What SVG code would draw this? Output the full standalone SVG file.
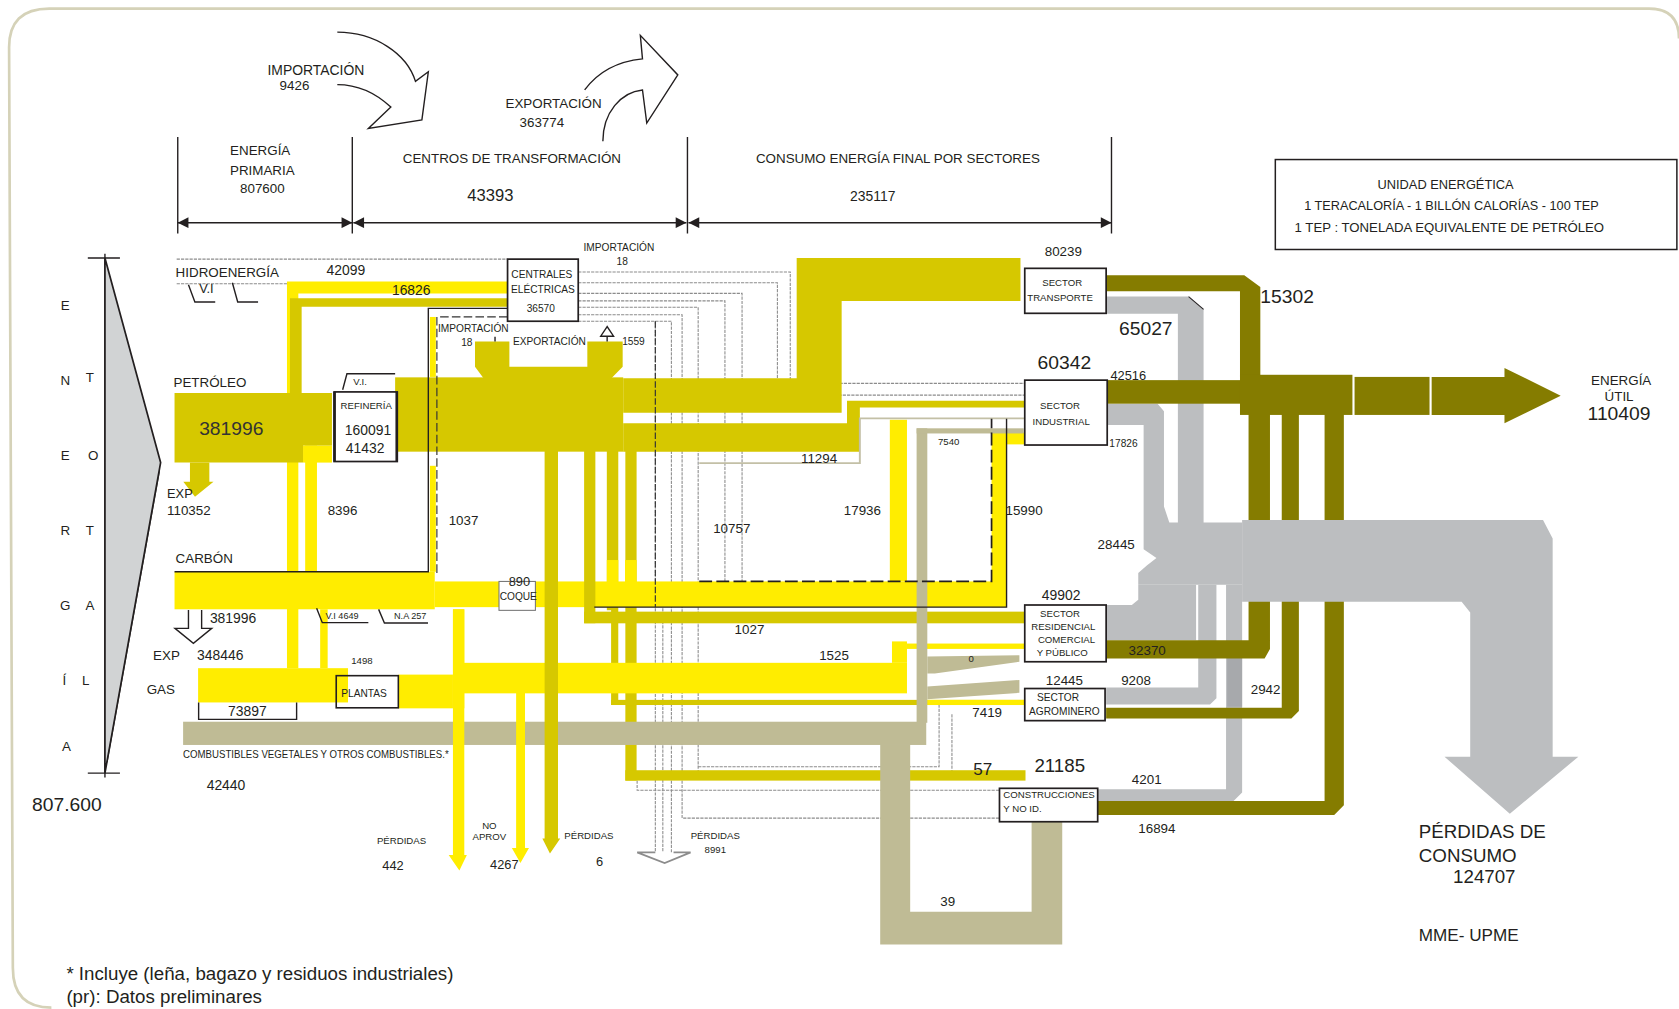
<svg xmlns="http://www.w3.org/2000/svg" width="1679" height="1009" viewBox="0 0 1679 1009">
<defs>
<style>
.t{font-family:"Liberation Sans",Arial,sans-serif;fill:#231F20}
.s8{font-size:8.5px}.s9{font-size:9px}.s95{font-size:9.5px}.s12{font-size:12px}.s125{font-size:12.5px}.s13{font-size:13px}.s155{font-size:15.5px}.s17{font-size:17.5px}.s18{font-size:18px}
.m{text-anchor:middle}
.pe{fill:#D6C800}.co{fill:#FFED00}.kh{fill:#BFBB95}.ol{fill:#857C00}.gr{fill:#BCBEC0}
.box{fill:#fff;stroke:#231F20;stroke-width:1.6}
.open{fill:none;stroke:#231F20;stroke-width:1.3}
.el{fill:none;stroke:#8c8c8c;stroke-width:1;stroke-dasharray:3 1}
.ln{fill:none;stroke:#231F20;stroke-width:1.3}
.dash{fill:none;stroke:#231F20;stroke-width:1.6;stroke-dasharray:12 4}
</style>
<marker id="tip" viewBox="0 0 10 10" refX="10" refY="5" markerWidth="11" markerHeight="10" markerUnits="userSpaceOnUse" orient="auto-start-reverse"><path d="M0,0L10,5L0,10Z" fill="#231F20"/></marker>
</defs>
<rect width="1679" height="1009" fill="#fff"/>
<g transform="scale(1.0708)">

<!-- outer frame -->
<path d="M1568,36 Q1568,8 1540,8 H46 Q8,8 8.5,45 L12,904 Q12,941 48,941" fill="none" stroke="#D5D2B8" stroke-width="2.5"/>

<!-- header: brackets, import / export arrows, unit box -->
<g id="header">
  <path class="ln" d="M166,128V218M329,128V218M642,128V218M1038,128V218"/>
  <line class="ln" x1="166" y1="208" x2="329" y2="208" marker-start="url(#tip)" marker-end="url(#tip)"/>
  <line class="ln" x1="330" y1="208" x2="641" y2="208" marker-start="url(#tip)" marker-end="url(#tip)"/>
  <line class="ln" x1="643" y1="208" x2="1038" y2="208" marker-start="url(#tip)" marker-end="url(#tip)"/>
  <path class="open" d="M315,30 C350,30 380,50 388,76 L400,67 L394,112 L344,120 L365,100 C350,86 332,79 315,79"/>
  <path class="open" d="M546,84 C560,65 580,57 600,55 L598,33 L633,70 L604,115 L600,84 C580,86 563,105 563,132"/>
  <text class="t s13 m" x="295" y="70.5">IMPORTACIÓN</text>
  <text class="t s125 m" x="275" y="84">9426</text>
  <text class="t s125 m" x="517" y="100.5">EXPORTACIÓN</text>
  <text class="t s125 m" x="506" y="118.5">363774</text>
  <text class="t s125 m" x="243" y="144.5">ENERGÍA</text>
  <text class="t s125 m" x="245" y="163.5">PRIMARIA</text>
  <text class="t s125 m" x="245" y="180.5">807600</text>
  <text class="t s125 m" x="478" y="152.5">CENTROS DE TRANSFORMACIÓN</text>
  <text class="t s155 m" x="458" y="187.5">43393</text>
  <text class="t s125 m" x="838.5" y="152.5">CONSUMO ENERGÍA FINAL POR SECTORES</text>
  <text class="t s13 m" x="815" y="187.5">235117</text>
  <rect x="1191" y="149" width="375" height="84" fill="#fff" stroke="#231F20" stroke-width="1.4"/>
  <text class="t s12 m" x="1350" y="176.5">UNIDAD ENERGÉTICA</text>
  <text class="t s12" x="1218" y="196.5" textLength="275" lengthAdjust="spacingAndGlyphs">1 TERACALORÍA  - 1 BILLÓN CALORÍAS  - 100 TEP</text>
  <text class="t s12" x="1209" y="216.5" textLength="289" lengthAdjust="spacingAndGlyphs">1 TEP : TONELADA EQUIVALENTE DE PETRÓLEO</text>
</g>

<!-- total supply wedge -->
<g id="node-entrega">
  <path class="ln" d="M98,237V726M82,241H112M82,722H112"/>
  <polygon points="98,241 150,432 98,722" fill="#D1D3D4" stroke="#231F20" stroke-width="1.6"/>
  <path d="M100,712 L149,440" stroke="#231F20" stroke-width="0.8" fill="none"/>
  <g class="t s125 m">
    <text x="61" y="289.5">E</text><text x="61" y="359.5">N</text><text x="61" y="429.5">E</text><text x="61" y="499.5">R</text><text x="61" y="569.5">G</text><text x="60" y="639.5">Í</text><text x="62" y="701.5">A</text>
    <text x="84" y="356.5">T</text><text x="87" y="429.5">O</text><text x="84" y="499.5">T</text><text x="84" y="569.5">A</text><text x="80" y="639.5">L</text>
  </g>
  <text class="t s18" x="30" y="757">807.600</text>
</g>

<g id="connectors">
  <!-- electricity and hydro network (thin lines, behind the bands) -->
  <g>
    <path class="el" d="M165,242H474M165,265H268"/>
    <path class="el" d="M540,254H738V358H957"/>
    <path class="el" d="M540,264H726V369H957"/>
    <path class="el" d="M540,274H693V543"/>
    <path class="el" d="M540,281H677V543" stroke="#555"/>
    <path class="el" d="M540,287H652V727H917"/>
    <path class="el" d="M540,294H637V764H934"/>
    <path class="el" d="M540,300H627V796"/>
    <path class="el" d="M612,300V796" stroke="#444"/>
    <path class="el" d="M619,560V796"/>
    <path class="el" d="M652,716H877V656"/>
    <path class="el" d="M889,667V727"/>
    <path class="el" d="M595,729V738H934"/>
    <path d="M595,796H612M629,796H645M595,796L620.7,806L645,796" fill="none" stroke="#8c8c8c" stroke-width="1.6"/>
  </g>

  <!-- coal and gas (bright yellow) -->
  <polygon class="co" points="268,263 474,263 474,274 278.6,274 278.6,624 268,624"/>
  <rect class="co" x="283" y="416" width="27" height="16"/>
  <rect class="co" x="285" y="416" width="11" height="118"/>
  <rect class="co" x="299" y="569" width="7" height="55"/>
  <rect class="co" x="401.5" y="296" width="5.5" height="56"/>
  <rect class="co" x="401.5" y="435" width="5.5" height="99"/>

  <!-- petroleum verticals passing under the coal band -->
  <polygon class="pe" points="566.7,421 577.4,421 577.4,658.4 570.7,658.4 570.7,570 566.7,570"/>
  <rect class="pe" x="584" y="421" width="10.5" height="308"/>

  <rect class="co" x="163" y="534" width="243" height="35"/>
  <rect class="co" x="406" y="543" width="534" height="24"/>
  <rect class="co" x="926" y="404" width="14" height="163"/>
  <rect class="co" x="926" y="404" width="31" height="11"/>
  <rect class="co" x="831" y="392" width="16" height="151"/>
  <rect class="co" x="566.7" y="523" width="10.7" height="44"/>
  <rect class="co" x="583.7" y="523" width="10.8" height="44"/>

  <rect class="co" x="185" y="624" width="140" height="32"/>
  <rect class="co" x="372" y="630" width="51" height="31.5"/>
  <rect class="co" x="423" y="569" width="10.6" height="92.5"/>
  <rect class="co" x="433" y="619" width="414" height="28.5"/>
  <rect class="co" x="833" y="599" width="14" height="20"/>
  <rect class="co" x="847" y="601" width="110" height="5"/>

  <!-- combustibles vegetales main band -->
  <rect class="kh" x="171" y="674" width="694" height="21.7"/>

  <!-- losses arrows from coal / gas -->
  <polygon class="co" points="423,569 433.6,569 433.6,798.5 436,798.5 429,813 419,798.5 423,798.5"/>
  <polygon class="co" points="482,647 490.3,647 490.3,792 494,792 486,806 478,792 482,792"/>

  <!-- petroleum (dark yellow) -->
  <polygon class="pe" points="163,367 310,367 310,416 283,416 283,432 163,432"/>
  <polygon class="pe" points="177.4,432 195.5,432 195.5,449.8 199.4,449.8 182.1,463.9 171.2,449.8 177.4,449.8"/>
  <polygon class="pe" points="270.8,278.6 474,278.6 474,286.4 281.7,286.4 281.7,367 270.8,367"/>
  <rect class="pe" x="369" y="352.4" width="213" height="69.4"/>
  <polygon class="pe" points="443.6,319 475.7,319 475.7,342.4 548.5,342.4 548.5,319 581.5,319 581.5,342.4 571.2,353 451.4,353 443.6,342.4"/>
  <polygon class="pe" points="582,353.3 744,353.3 744,241 953,241 953,281 786,281 786,385.4 582,385.4"/>
  <polygon class="pe" points="582,395.3 791,395.3 791,374.2 957,374.2 957,380.5 803,380.5 803,421.8 582,421.8"/>
  <rect class="pe" x="545.5" y="421" width="10.5" height="161"/>
  <rect class="pe" x="545.5" y="571.2" width="412" height="10.9"/>
  <rect class="pe" x="570.7" y="653.6" width="386.3" height="4.8"/>
  <rect class="co" x="865" y="653.6" width="92" height="4.8"/>
  <rect class="pe" x="584" y="719.3" width="373.7" height="9.7"/>
  <polygon class="pe" points="508.6,421 521.1,421 521.1,783 523.2,783 513.6,797 506.5,783 508.6,783"/>

  <!-- combustibles vegetales branches -->
  <rect class="kh" x="856" y="400" width="10" height="275"/>
  <rect class="kh" x="856" y="400" width="100" height="4.8"/>
  <polygon class="kh" points="866,613 952,612 952,618 873,629 866,629"/>
  <polygon class="kh" points="866,641 952,635 952,647 866,653"/>
  <polygon class="kh" points="822,695 822,882 992,882 992,762.7 963.4,762.7 963.4,851.4 850,851.4 850,695"/>

  <!-- gas line to industry -->
  <path d="M653,432.5H803V390.7H957" fill="none" stroke="#c3c0a6" stroke-width="1.8"/>

  <!-- outlines of the coal flows -->
  <path class="ln" d="M163,534H400V288H474"/>
  <path d="M408,535V296H474" fill="none" stroke="#333" stroke-width="1.1" stroke-dasharray="8 3"/>
  <path class="dash" d="M653,543H926V391"/>
  <path class="ln" d="M555,567H940V391"/>
  <path d="M612,300V567" fill="none" stroke="#333" stroke-width="1.1" stroke-dasharray="6 2"/>
  <path class="ln" d="M462.3,314.4V319"/>
  <path class="ln" d="M567,314V319" />
  <polygon points="567,305 561,314 573,314" fill="#fff" stroke="#231F20" stroke-width="1.3"/>
  <path class="open" d="M176,569.7V586.8H163.4L180.6,600.8L197.7,586.8H188.3V569.7"/>

  <!-- consumption losses (grey) -->
  <polygon class="gr" points="1033,277 1110,277 1124,289 1124,490 1100,490 1100,293 1033,293"/>
  <path d="M1110,277 L1124,289" stroke="#231F20" stroke-width="1" fill="none"/>
  <polygon class="gr" points="1034,377 1081,377 1087,384 1087,473 1092,488 1160,488 1160,546 1063,546 1063,535 1071,528 1080,521 1068,513 1068,397 1034,397"/>
  <polygon class="gr" points="1033,565 1057,565 1063,560 1063,546 1117,546 1117,598 1033,598"/>
  <polygon class="gr" points="1119,546 1136,546 1136,652 1130,658 1033,658 1033,642 1119,642"/>
  <polygon class="gr" points="1145,546 1160,546 1160,740 1152,748 1024,748 1024,737 1145,737"/>
  <rect x="1146" y="610" width="14" height="50" fill="#A7A9AC"/>

  <!-- useful energy (olive) -->
  <polygon class="ol" points="1033,257 1162,257 1177,268 1177,352 1158,352 1158,272 1033,272"/>
  <rect class="ol" x="1034" y="355" width="142" height="22"/>
  <rect class="ol" x="1158" y="350" width="105" height="37.5"/>
  <polygon class="ol" points="1166,385 1186,385 1186,606 1181,615 1033,615 1033,598 1166,598"/>
  <polygon class="ol" points="1197,385 1213,385 1213,664 1206,671 1033,671 1033,661 1197,661"/>
  <polygon class="ol" points="1237,385 1255,385 1255,752 1246,761 1024,761 1024,748 1237,748"/>

  <!-- consumption losses main arrow -->
  <polygon class="gr" points="1160,485.6 1441,485.6 1450,503 1450,706.7 1474,706.7 1410,760 1349,706.7 1373,706.7 1373,572 1365,562 1160,562"/>
</g>

<!-- useful energy output -->
<g id="node-energia-util">
  <rect class="ol" x="1265" y="352" width="70" height="35.5"/>
  <polygon class="ol" points="1337,352 1405,352 1405,343.6 1457.5,369.5 1405,395.3 1405,387.5 1337,387.5"/>
  <text class="t s125 m" x="1514" y="359.5">ENERGÍA</text>
  <text class="t s125 m" x="1512" y="374.5">ÚTIL</text>
  <text class="t s18 m" x="1512" y="392.5">110409</text>
</g>

<g id="node-perdidas-consumo">
  <text class="t s17" x="1325" y="783">PÉRDIDAS DE</text>
  <text class="t s17" x="1325" y="805">CONSUMO</text>
  <text class="t s17" x="1357" y="825">124707</text>
</g>

<!-- transformation centres -->
<g id="node-centrales">
  <rect class="box" x="474" y="242" width="66" height="58"/>
  <text class="t s95 m" x="506" y="259.5">CENTRALES</text>
  <text class="t s95 m" x="507" y="273.5">ELÉCTRICAS</text>
  <text class="t s95 m" x="505" y="291.5">36570</text>
</g>
<g id="node-refineria">
  <path class="ln" d="M320,364L324,349H369"/>
  <text class="t s9" x="330" y="359.5">V.I.</text>
  <rect class="box" x="312" y="366" width="59" height="65" stroke-width="1.3"/>
  <path d="M312.5,366V431M370.5,366V431" stroke="#231F20" stroke-width="2.4"/>
  <text class="t s9 m" x="342" y="381.5">REFINERÍA</text>
  <text class="t s13" x="322" y="406.5">160091</text>
  <text class="t s13" x="323" y="423.5">41432</text>
</g>
<g id="node-coque">
  <rect x="466" y="543" width="34" height="27" fill="#fff" stroke="#777" stroke-width="1"/>
  <text class="t s12 m" x="485" y="547">890</text>
  <text class="t s95 m" x="484" y="560.5">COQUE</text>
</g>
<g id="node-plantas">
  <rect x="314" y="631" width="58" height="30" fill="none" stroke="#231F20" stroke-width="1.5"/>
  <text class="t s95 m" x="340" y="650.5">PLANTAS</text>
</g>

<!-- consumption sectors -->
<g id="node-transporte">
  <rect class="box" x="957" y="250.6" width="76" height="42" stroke-width="2"/>
  <text class="t s9 m" x="992" y="267.5">SECTOR</text>
  <text class="t s9 m" x="990" y="281.5">TRANSPORTE</text>
</g>
<g id="node-industrial">
  <rect class="box" x="957" y="355" width="77" height="60.6" stroke-width="2.4"/>
  <text class="t s9 m" x="990" y="381.5">SECTOR</text>
  <text class="t s9 m" x="991" y="396.5">INDUSTRIAL</text>
</g>
<g id="node-residencial">
  <rect class="box" x="957" y="565" width="76" height="53" stroke-width="2"/>
  <text class="t s9 m" x="990" y="576.5">SECTOR</text>
  <text class="t s9 m" x="993" y="588.5">RESIDENCIAL</text>
  <text class="t s9 m" x="996" y="600.5">COMERCIAL</text>
  <text class="t s9 m" x="992" y="612.5">Y PÚBLICO</text>
</g>
<g id="node-agrominero">
  <rect class="box" x="957" y="643" width="75" height="30" stroke-width="2.2"/>
  <text class="t s95 m" x="988" y="654.5">SECTOR</text>
  <text class="t s95 m" x="994" y="667.5">AGROMINERO</text>
</g>
<g id="node-construcciones">
  <rect class="box" x="933.4" y="736.2" width="91.7" height="31.2" stroke-width="1.3"/>
  <text class="t s9" x="937" y="745.5">CONSTRUCCIONES</text>
  <text class="t s9" x="937" y="758.5">Y NO ID.</text>
</g>

<!-- primary sources -->
<g id="node-hidroenergia">
  <text class="t s125" x="164" y="258.5">HIDROENERGÍA</text>
  <path class="ln" d="M176,266L182,282H201M217,264L222,282H241"/>
  <text class="t s12" x="186" y="274">V.I</text>
</g>
<g id="node-petroleo">
  <text class="t s125" x="162" y="361.5">PETRÓLEO</text>
  <text x="186" y="406" style="font-family:'Liberation Sans',Arial,sans-serif;fill:#333;font-size:18px">381996</text>
  <text class="t s12" x="156" y="465.5">EXP</text>
  <text class="t s125" x="156" y="480.5">110352</text>
</g>
<g id="node-carbon">
  <text class="t s125" x="164" y="525.5">CARBÓN</text>
  <text class="t s13" x="196" y="582">381996</text>
  <text class="t s125" x="143" y="616.5">EXP</text>
  <text class="t s13" x="184" y="616.5">348446</text>
  <path class="ln" d="M295.7,568L301,581.5H344M353.6,569.1L359,581.8H399.7"/>
  <text class="t s8" x="304" y="578.5">V.I 4649</text>
  <text class="t s8" x="368" y="578.5">N.A 257</text>
</g>
<g id="node-gas">
  <text class="t s125" x="137" y="648.5">GAS</text>
  <path class="ln" d="M185.5,656V671.8H277V656"/>
  <text class="t s13 m" x="231" y="668.5">73897</text>
</g>
<g id="node-combustibles">
  <text class="t s95" x="171" y="707.5" textLength="248" lengthAdjust="spacingAndGlyphs">COMBUSTIBLES VEGETALES Y OTROS COMBUSTIBLES.*</text>
  <text class="t s13" x="193" y="738">42440</text>
</g>

<!-- flow values -->
<g id="labels">
  <text class="t s13" x="305" y="256.5">42099</text>
  <text class="t s13" x="366" y="275.5">16826</text>
  <text class="t s95 m" x="578" y="234.5">IMPORTACIÓN</text>
  <text class="t s95 m" x="581" y="247.5">18</text>
  <text class="t s95" x="409" y="310.5">IMPORTACIÓN</text>
  <text class="t s95 m" x="436" y="323.5">18</text>
  <text class="t s95" x="479" y="322.5">EXPORTACIÓN</text>
  <text class="t s95" x="581" y="322.5">1559</text>
  <text class="t s125" x="306" y="480.5">8396</text>
  <text class="t s125" x="419" y="490.5">1037</text>
  <text class="t s125" x="666" y="497.5">10757</text>
  <text class="t s125" x="748" y="432.5">11294</text>
  <text class="t s125" x="788" y="480.5">17936</text>
  <text class="t s9" x="876" y="415.5">7540</text>
  <text class="t s125" x="939" y="480.5">15990</text>
  <text class="t s9" x="328" y="620.5">1498</text>
  <text class="t s125" x="686" y="592.5">1027</text>
  <text class="t s125" x="765" y="616.5">1525</text>
  <text class="t s9 m" x="907" y="618.5">0</text>
  <text class="t s9 m" x="375" y="788.5">PÉRDIDAS</text>
  <text class="t s12 m" x="367" y="812.5">442</text>
  <text class="t s9 m" x="457" y="774.5">NO</text>
  <text class="t s9 m" x="457" y="784.5">APROV</text>
  <text class="t s12 m" x="471" y="811.5">4267</text>
  <text class="t s9 m" x="550" y="783.5">PÉRDIDAS</text>
  <text class="t s12 m" x="560" y="808.5">6</text>
  <text class="t s9 m" x="668" y="783.5">PÉRDIDAS</text>
  <text class="t s9 m" x="668" y="796.5">8991</text>
  <text class="t s125" x="908" y="669.5">7419</text>
  <text x="909" y="723.5" style="font-family:'Liberation Sans',Arial,sans-serif;fill:#231F20;font-size:16px">57</text>
  <text class="t s17" x="966" y="721">21185</text>
  <text class="t s125 m" x="885" y="846.5">39</text>
  <text class="t s125 m" x="993" y="239.5">80239</text>
  <text class="t s18" x="1177" y="282.5">15302</text>
  <text class="t s18" x="1045" y="312.5">65027</text>
  <text class="t s18" x="969" y="344.5">60342</text>
  <text class="t s12" x="1037" y="354.5">42516</text>
  <text class="t s95" x="1036" y="417.5">17826</text>
  <text class="t s125" x="1025" y="512.5">28445</text>
  <text class="t s13 m" x="991" y="560.5">49902</text>
  <text class="t s125" x="1054" y="611.5">32370</text>
  <text class="t s125 m" x="994" y="639.5">12445</text>
  <text class="t s125" x="1047" y="639.5">9208</text>
  <text class="t s125" x="1168" y="648.5">2942</text>
  <text class="t s125" x="1057" y="732.5">4201</text>
  <text class="t s125" x="1063" y="777.5">16894</text>
  <text class="t" x="1325" y="879" style="font-size:16px">MME- UPME</text>
  <text class="t s17" x="62" y="915">* Incluye (leña, bagazo y residuos industriales)</text>
  <text class="t s17" x="62" y="937">(pr): Datos preliminares</text>
</g>
</g>
</svg>
